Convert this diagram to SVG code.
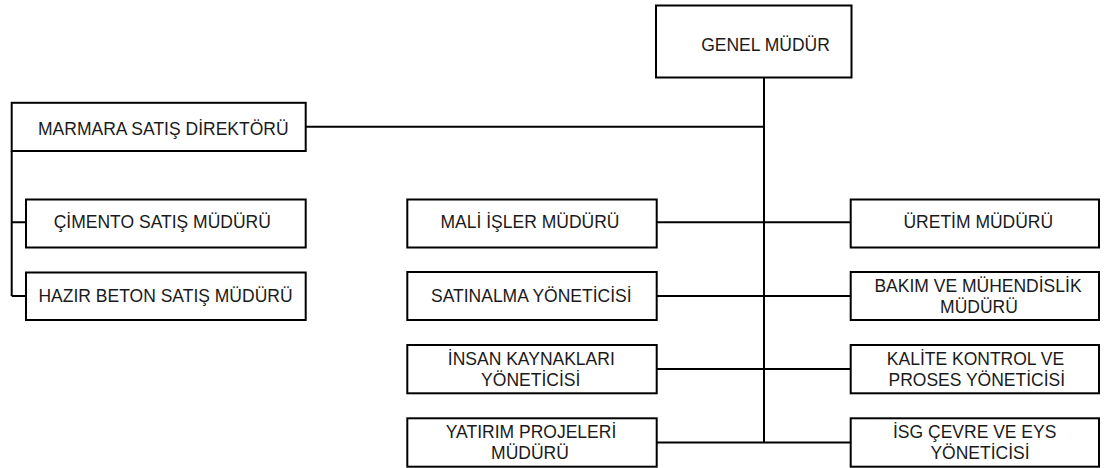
<svg xmlns="http://www.w3.org/2000/svg" width="1104" height="468" viewBox="0 0 1104 468">
<style>
.box{fill:#fff;stroke:#000;stroke-width:2}
.ln{fill:none;stroke:#000;stroke-width:2}
text{font-family:"Liberation Sans",Arial,sans-serif;font-size:17.5px;fill:#1a1a1a;text-anchor:middle}
</style>
<rect x="0" y="0" width="1104" height="468" fill="#fff"/>
<g id="connectors">
<path class="ln" d="M764 77.5 V442.5"/>
<path class="ln" d="M305.7 126.7 H764"/>
<path class="ln" d="M11.7 151 V296 M11.7 222.3 H26 M11.7 296 H26"/>
<path class="ln" d="M656.7 222.3 H850.7 M656.7 296 H850.7 M656.7 369 H850.7 M656.7 442.5 H850.7"/>
</g>
<g id="genel"><rect class="box" x="656" y="5.5" width="195.5" height="72"/><text x="765.5" y="50.5">GENEL MÜDÜR</text></g>
<g id="marmara"><rect class="box" x="11.7" y="102.8" width="294" height="48.2"/><text x="163.3" y="135">MARMARA SATIŞ DİREKTÖRÜ</text></g>
<g id="cimento"><rect class="box" x="26" y="199.5" width="279.7" height="48"/><text x="162.3" y="228.3">ÇİMENTO SATIŞ MÜDÜRÜ</text></g>
<g id="hazir"><rect class="box" x="26" y="272.5" width="279.7" height="47.5"/><text x="165.5" y="302.3">HAZIR BETON SATIŞ MÜDÜRÜ</text></g>
<g id="mali"><rect class="box" x="407.3" y="199.5" width="249.4" height="48"/><text x="530" y="228.3">MALİ İŞLER MÜDÜRÜ</text></g>
<g id="satinalma"><rect class="box" x="407.3" y="272" width="249.4" height="48"/><text x="531.3" y="302">SATINALMA YÖNETİCİSİ</text></g>
<g id="insan"><rect class="box" x="407.3" y="345" width="249.4" height="48.3"/><text x="531.3" y="364.5">İNSAN KAYNAKLARI</text><text x="530.7" y="386">YÖNETİCİSİ</text></g>
<g id="yatirim"><rect class="box" x="407.3" y="418.3" width="249.4" height="48.4"/><text x="531" y="437.8">YATIRIM PROJELERİ</text><text x="530" y="459.3">MÜDÜRÜ</text></g>
<g id="uretim"><rect class="box" x="850.7" y="199.5" width="248.3" height="48"/><text x="978.3" y="228.3">ÜRETİM MÜDÜRÜ</text></g>
<g id="bakim"><rect class="box" x="850.7" y="272" width="248.3" height="48"/><text x="978" y="291.5">BAKIM VE MÜHENDİSLİK</text><text x="979" y="313">MÜDÜRÜ</text></g>
<g id="kalite"><rect class="box" x="850.7" y="345" width="248.3" height="48.3"/><text x="975.5" y="364.5">KALİTE KONTROL VE</text><text x="976.8" y="386">PROSES YÖNETİCİSİ</text></g>
<g id="isg"><rect class="box" x="850.7" y="418.3" width="248.3" height="48.4"/><text x="974.7" y="437.8">İSG ÇEVRE VE EYS</text><text x="980" y="459.3">YÖNETİCİSİ</text></g>
</svg>
